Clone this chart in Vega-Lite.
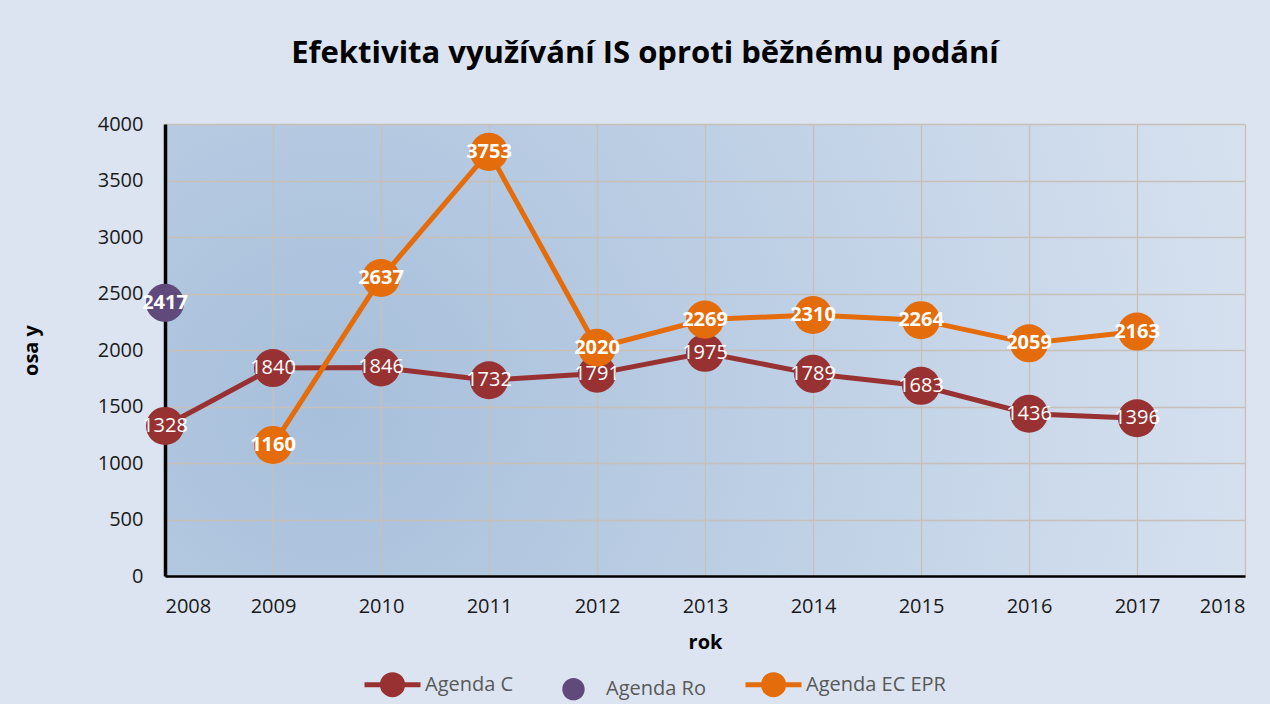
{
  "$schema": "https://vega.github.io/schema/vega-lite/v6.json",
  "width": 1080,
  "height": 452,
  "autosize": {"type": "none"},
  "padding": {"left": 165, "top": 124, "right": 25, "bottom": 128},
  "background": "#dbe4f0",
  "title": {
    "text": "Efektivita využívání IS oproti běžnému podání",
    "font": "Open Sans",
    "fontSize": 31,
    "fontWeight": "bold",
    "color": "#000000",
    "anchor": "middle",
    "frame": "group",
    "dx": -60,
    "offset": 44
  },
  "config": {
    "view": {
      "stroke": null,
      "fill": {
        "gradient": "radial",
        "x1": 0.15, "y1": 0.55, "r1": 0,
        "x2": 0.15, "y2": 0.55, "r2": 0.95,
        "stops": [
          {"offset": 0, "color": "#a7bfdb"},
          {"offset": 1, "color": "#dae4f1"}
        ]
      }
    },
    "axis": {
      "labelFont": "Open Sans",
      "labelFontSize": 20,
      "labelColor": "#1a1a1a",
      "titleFont": "Open Sans",
      "titleFontSize": 20,
      "titleFontWeight": "bold",
      "titleColor": "#000000",
      "gridColor": "#c8c0b8",
      "gridWidth": 1.3,
      "domainColor": "#000000",
      "ticks": false
    },
    "legend": {
      "labelFont": "Open Sans",
      "labelFontSize": 20,
      "labelColor": "#595959"
    }
  },
  "data": {
    "values": [
      {"rok": 2008, "serie": "Agenda C", "hodnota": 1328},
      {"rok": 2009, "serie": "Agenda C", "hodnota": 1840},
      {"rok": 2010, "serie": "Agenda C", "hodnota": 1846},
      {"rok": 2011, "serie": "Agenda C", "hodnota": 1732},
      {"rok": 2012, "serie": "Agenda C", "hodnota": 1791},
      {"rok": 2013, "serie": "Agenda C", "hodnota": 1975},
      {"rok": 2014, "serie": "Agenda C", "hodnota": 1789},
      {"rok": 2015, "serie": "Agenda C", "hodnota": 1683},
      {"rok": 2016, "serie": "Agenda C", "hodnota": 1436},
      {"rok": 2017, "serie": "Agenda C", "hodnota": 1396},
      {"rok": 2008, "serie": "Agenda Ro", "hodnota": 2417},
      {"rok": 2009, "serie": "Agenda EC EPR", "hodnota": 1160},
      {"rok": 2010, "serie": "Agenda EC EPR", "hodnota": 2637},
      {"rok": 2011, "serie": "Agenda EC EPR", "hodnota": 3753},
      {"rok": 2012, "serie": "Agenda EC EPR", "hodnota": 2020},
      {"rok": 2013, "serie": "Agenda EC EPR", "hodnota": 2269},
      {"rok": 2014, "serie": "Agenda EC EPR", "hodnota": 2310},
      {"rok": 2015, "serie": "Agenda EC EPR", "hodnota": 2264},
      {"rok": 2016, "serie": "Agenda EC EPR", "hodnota": 2059},
      {"rok": 2017, "serie": "Agenda EC EPR", "hodnota": 2163}
    ]
  },
  "encoding": {
    "x": {
      "field": "rok",
      "type": "quantitative",
      "scale": {"domain": [2008, 2018], "nice": false, "zero": false},
      "axis": {"title": "rok", "format": "d", "values": [2008, 2009, 2010, 2011, 2012, 2013, 2014, 2015, 2016, 2017, 2018], "labelPadding": 20, "titlePadding": 16, "domainWidth": 2.5}
    },
    "y": {
      "field": "hodnota",
      "type": "quantitative",
      "scale": {"domain": [0, 4000], "nice": false},
      "axis": {"title": "osa y", "format": "d", "values": [0, 500, 1000, 1500, 2000, 2500, 3000, 3500, 4000], "labelPadding": 22, "titlePadding": 56, "domainWidth": 3.5}
    },
    "color": {
      "field": "serie",
      "type": "nominal",
      "scale": {"domain": ["Agenda C", "Agenda Ro", "Agenda EC EPR"], "range": ["#983232", "#604a7b", "#e46c0a"]},
      "legend": {
        "title": null,
        "orient": "none",
        "legendX": 197,
        "legendY": 530,
        "direction": "horizontal",
        "symbolSize": 3136,
        "symbolStrokeWidth": 5,
        "columnPadding": 29,
        "labelOffset": 2,
        "encode": {
          "symbols": {
            "update": {
              "shape": {"signal": "datum.value === 'Agenda Ro' ? 'M-1,0H1M0.4,0A0.4,0.4,0,1,1,-0.4,0A0.4,0.4,0,1,1,0.4,0Z' : 'M-1,0H1M0.36,0A0.36,0.36,0,1,1,-0.36,0A0.36,0.36,0,1,1,0.36,0Z'"},
              "fill": {"scale": "color", "field": "value"},
              "stroke": {"scale": "color", "field": "value"},
              "strokeOpacity": {"signal": "datum.value === 'Agenda Ro' ? 0 : 1"},
              "opacity": {"value": 1},
              "fillOpacity": {"value": 1},
              "strokeWidth": {"value": 5}
            }
          }
        }
      }
    }
  },
  "layer": [
    {
      "transform": [{"filter": "datum.serie !== 'Agenda Ro'"}],
      "mark": {"type": "line", "strokeWidth": 5, "point": {"filled": true, "size": 1450, "opacity": 1}},
      "encoding": {"detail": {"field": "serie"}}
    },
    {
      "transform": [{"filter": "datum.serie === 'Agenda Ro'"}],
      "mark": {"type": "point", "filled": true, "size": 1450, "opacity": 1}
    },
    {
      "transform": [{"filter": "datum.serie === 'Agenda C'"}],
      "mark": {"type": "text", "font": "Open Sans", "fontSize": 20, "fontWeight": "normal", "baseline": "middle", "align": "center"},
      "encoding": {"text": {"field": "hodnota", "type": "quantitative", "format": "d"}, "color": {"value": "#ffffff"}}
    },
    {
      "transform": [{"filter": "datum.serie !== 'Agenda C'"}],
      "mark": {"type": "text", "font": "Open Sans", "fontSize": 20, "fontWeight": "bold", "baseline": "middle", "align": "center"},
      "encoding": {"text": {"field": "hodnota", "type": "quantitative", "format": "d"}, "color": {"value": "#ffffff"}}
    }
  ]
}
